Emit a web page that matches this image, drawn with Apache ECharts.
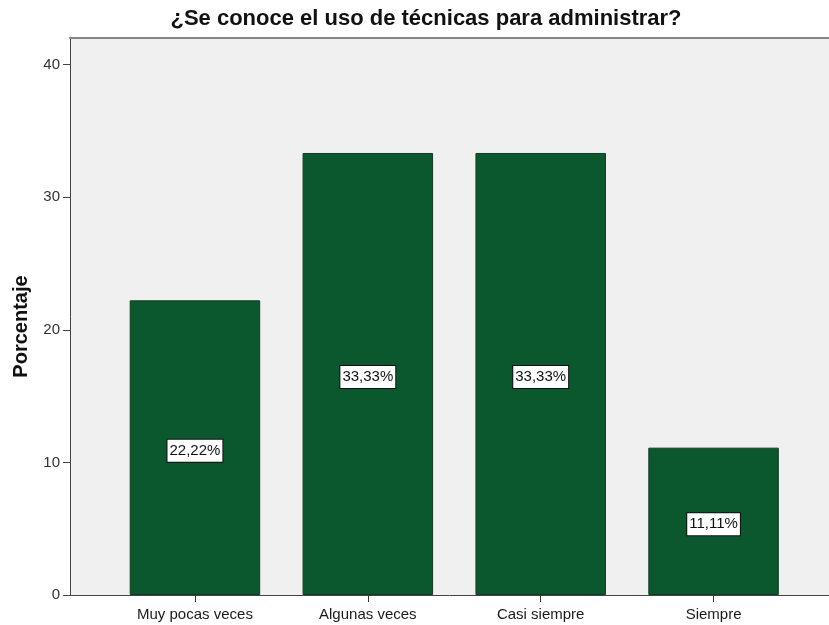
<!DOCTYPE html>
<html>
<head>
<meta charset="utf-8">
<script src="https://cdn.jsdelivr.net/npm/echarts@6/dist/echarts.min.js"></script>
<style>
  html, body { margin: 0; padding: 0; background: #ffffff; }
  #chart { width: 829px; height: 625px; }
</style>
</head>
<body>
<div id="chart"></div>
<script>
// Answer categories and their percentages
const categories = ['Muy pocas veces', 'Algunas veces', 'Casi siempre', 'Siempre'];
const percentages = [22.22, 33.33, 33.33, 11.11];
const yTicks = [0, 10, 20, 30, 40];

const FONT = '"Liberation Sans", Arial, sans-serif';
const chart = echarts.init(document.getElementById('chart'), null, { renderer: 'canvas' });

const fmtPct = v => v.toFixed(2).replace('.', ',') + '%';

chart.setOption({
  animation: false,
  backgroundColor: '#ffffff',
  title: {
    text: '¿Se conoce el uso de técnicas para administrar?',
    left: 421, top: 3, textAlign: 'center',
    textStyle: { fontFamily: FONT, fontSize: 22, fontWeight: 'bold', color: '#111' }
  },
  grid: [
    // frame: grey plot background with the value axis
    { left: 70, right: -2, top: 38, bottom: 30, show: true, backgroundColor: '#f0f0f0', borderWidth: 0 },
    // bars
    { left: 108.5, right: 29, top: 38, bottom: 30 }
  ],
  xAxis: [
    { gridIndex: 0, type: 'value', min: 0, max: 1,
      axisLine: { show: true, onZero: false, lineStyle: { color: '#444', width: 1 } },
      axisTick: { show: false }, axisLabel: { show: false }, splitLine: { show: false } },
    { gridIndex: 0, type: 'value', min: 0, max: 1, position: 'top',
      axisLine: { show: true, onZero: false, lineStyle: { color: '#858585', width: 2 } },
      axisTick: { show: false }, axisLabel: { show: false }, splitLine: { show: false } },
    { gridIndex: 1, type: 'category', data: categories,
      axisLine: { show: false },
      axisTick: { show: true, alignWithLabel: true, length: 7, lineStyle: { color: '#333' } },
      axisLabel: { fontFamily: FONT, fontSize: 15, color: '#1a1a1a', margin: 12 },
      splitLine: { show: false } }
  ],
  yAxis: [
    { gridIndex: 0, type: 'value', min: 0, max: 42, interval: 10,
      name: 'Porcentaje', nameLocation: 'middle', nameGap: 39, nameRotate: 90,
      nameTextStyle: { fontFamily: FONT, fontSize: 20, fontWeight: 'bold', color: '#111', padding: [0, 20, 0, 0] },
      axisLine: { show: true, lineStyle: { color: '#444', width: 1 } },
      axisTick: { show: true, length: 7, customValues: yTicks, lineStyle: { color: '#444' } },
      axisLabel: { fontFamily: FONT, fontSize: 15, color: '#333', margin: 10, customValues: yTicks },
      splitLine: { show: false } },
    { gridIndex: 1, type: 'value', min: 0, max: 42, show: false }
  ],
  series: [{
    type: 'bar',
    xAxisIndex: 2, yAxisIndex: 1,
    data: percentages,
    barWidth: 130.5,
    itemStyle: { color: '#0b572e', borderColor: '#143a22', borderWidth: 1 },
    label: {
      show: true, position: 'inside', offset: [0, 3],
      formatter: p => fmtPct(p.value),
      fontFamily: FONT, fontSize: 15, color: '#111',
      backgroundColor: '#ffffff', borderColor: '#111', borderWidth: 1,
      padding: [4, 2, 3, 2]
    }
  }]
});
</script>
</body>
</html>
